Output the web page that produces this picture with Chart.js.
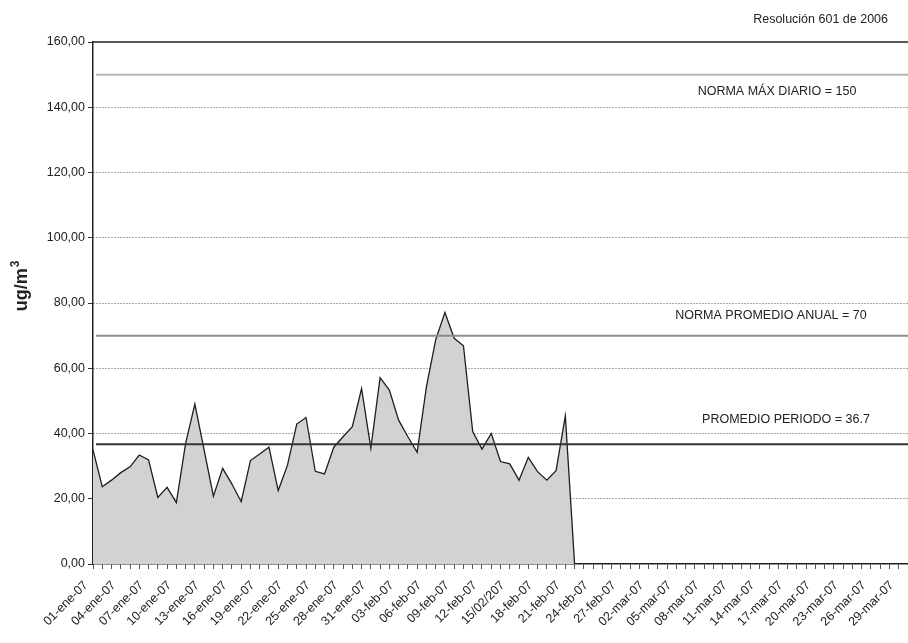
<!DOCTYPE html>
<html>
<head>
<meta charset="utf-8">
<script src="https://cdn.jsdelivr.net/npm/chart.js@4"></script>
<style>
  html, body { margin: 0; padding: 0; background: #ffffff; }
  #wrap { width: 908px; height: 643px; }
</style>
</head>
<body>
<div id="wrap"><canvas id="pm10Chart" width="908" height="643"></canvas></div>
<script>
// x tick labels, one every 3 days starting 01-ene-07
const tickLabels = [
  '01-ene-07', '04-ene-07', '07-ene-07', '10-ene-07', '13-ene-07', '16-ene-07',
  '19-ene-07', '22-ene-07', '25-ene-07', '28-ene-07', '31-ene-07', '03-feb-07',
  '06-feb-07', '09-feb-07', '12-feb-07', '15/02/207', '18-feb-07', '21-feb-07',
  '24-feb-07', '27-feb-07', '02-mar-07', '05-mar-07', '08-mar-07', '11-mar-07',
  '14-mar-07', '17-mar-07', '20-mar-07', '23-mar-07', '26-mar-07', '29-mar-07'
];

// daily concentration, 01-ene-07 .. 30-mar-07
const dailyValues = [
  35.0, 23.7, 25.7, 28.0, 29.8, 33.4, 31.9, 20.4, 23.5, 18.8,
  37.0, 49.0, 34.9, 20.8, 29.3, 24.5, 19.1, 31.7, 33.7, 35.8,
  22.5, 30.3, 42.9, 44.9, 28.4, 27.6, 35.8, 39.0, 42.1, 53.8,
  35.5, 57.1, 53.3, 44.1, 39.0, 34.2, 54.3, 68.7, 77.1, 69.2,
  66.9, 40.6, 35.2, 40.0, 31.4, 30.7, 25.7, 32.7, 28.3, 25.7,
  28.6, 45.4, 0, 0, 0, 0, 0, 0, 0, 0,
  0, 0, 0, 0, 0, 0, 0, 0, 0, 0,
  0, 0, 0, 0, 0, 0, 0, 0, 0, 0,
  0, 0, 0, 0, 0, 0, 0, 0, 0
];

const yTicks = [0, 20, 40, 60, 80, 100, 120, 140, 160];

const refValues = [150, 70, 36.7];
const refLabels = ['NORMA MÁX DIARIO = 150', 'NORMA PROMEDIO ANUAL = 70', 'PROMEDIO PERIODO = 36.7'];

const sourceNote = 'Resolución 601 de 2006';
const yTitle = 'ug/m';
const yTitleSup = '3';

// look of the reference lines (kept apart from the values)
const refStyles = [
  { color: '#b5b5b5', width: 2, labelX: 777, labelDy: 17 },
  { color: '#8c8c8c', width: 2, labelX: 771, labelDy: -20 },
  { color: '#333333', width: 2, labelX: 786, labelDy: -25 }
];

const font = "'Liberation Sans', Arial, sans-serif";

function formatComma(value) {
  return value.toFixed(2).replace('.', ',');
}

const categories = dailyValues.map((_, i) => (i % 3 === 0 && tickLabels[i / 3]) ? tickLabels[i / 3] : '');

const decorations = {
  id: 'decorations',
  afterDatasetsDraw(chart) {
    const { ctx, chartArea } = chart;
    const y = chart.scales.y;
    ctx.save();

    // solid top border at 160
    ctx.strokeStyle = '#222';
    ctx.lineWidth = 1.5;
    ctx.beginPath();
    ctx.moveTo(chartArea.left, y.getPixelForValue(yTicks[yTicks.length - 1]));
    ctx.lineTo(chartArea.right, y.getPixelForValue(yTicks[yTicks.length - 1]));
    ctx.stroke();

    // reference lines + captions
    ctx.font = `12.5px ${font}`;
    ctx.fillStyle = '#222';
    ctx.textAlign = 'center';
    ctx.textBaseline = 'middle';
    refValues.forEach((value, i) => {
      const style = refStyles[i];
      const py = y.getPixelForValue(value);
      ctx.strokeStyle = style.color;
      ctx.lineWidth = style.width;
      ctx.beginPath();
      ctx.moveTo(chartArea.left + 3, py);
      ctx.lineTo(chartArea.right, py);
      ctx.stroke();
      ctx.fillText(refLabels[i], style.labelX, py + style.labelDy);
    });

    // note in top right corner
    ctx.textAlign = 'right';
    ctx.fillText(sourceNote, chart.width - 20, 20);

    // y axis title with superscript
    ctx.translate(21, 286);
    ctx.rotate(-Math.PI / 2);
    ctx.font = `bold 18px ${font}`;
    const mainW = ctx.measureText(yTitle).width;
    ctx.font = `bold 12px ${font}`;
    const supW = ctx.measureText(yTitleSup).width;
    const startX = -(mainW + supW + 1) / 2;
    ctx.textAlign = 'left';
    ctx.textBaseline = 'alphabetic';
    ctx.font = `bold 18px ${font}`;
    ctx.fillText(yTitle, startX, 6);
    ctx.font = `bold 12px ${font}`;
    ctx.fillText(yTitleSup, startX + mainW + 1, -2);

    ctx.restore();
  }
};

function createChart() {
  const ctx = document.getElementById('pm10Chart');

  new Chart(ctx, {
    type: 'line',
    data: {
      labels: categories,
      datasets: [
        {
          label: 'PM10',
          data: dailyValues,
          borderColor: '#1e1e1e',
          borderWidth: 1.3,
          backgroundColor: '#d1d2d4',
          fill: 'origin',
          tension: 0,
          pointRadius: 0
        }
      ]
    },
    options: {
      responsive: false,
      animation: false,
      devicePixelRatio: 1,
      layout: { padding: { top: 42, right: 0, left: 0, bottom: 0 } },
      plugins: {
        legend: { display: false },
        tooltip: { enabled: false }
      },
      scales: {
        x: {
          type: 'category',
          offset: false,
          afterFit(scale) {
            scale.height = 79;
            scale.paddingRight = 0;
          },
          grid: {
            drawOnChartArea: false,
            drawTicks: true,
            tickLength: 5,
            tickColor: '#555'
          },
          border: { display: true, color: '#222', width: 1.5 },
          ticks: {
            autoSkip: false,
            maxRotation: 45,
            minRotation: 45,
            padding: 9,
            labelOffset: -7,
            color: '#222',
            font: { family: font, size: 12.5 }
          }
        },
        y: {
          min: yTicks[0],
          max: yTicks[yTicks.length - 1],
          afterFit(scale) {
            scale.width = 93;
          },
          afterBuildTicks(scale) {
            scale.ticks = yTicks.map(v => ({ value: v }));
          },
          grid: {
            color: c => (c.tick && (c.tick.value === yTicks[0] || c.tick.value === yTicks[yTicks.length - 1])) ? 'rgba(0,0,0,0)' : '#555',
            lineWidth: 1,
            drawTicks: true,
            tickLength: 5,
            tickColor: '#333'
          },
          border: { display: true, color: '#222', width: 1.5, dash: [1, 2] },
          ticks: {
            padding: 3,
            color: '#222',
            font: { family: font, size: 12.5 },
            callback: value => formatComma(value)
          }
        }
      }
    },
    plugins: [decorations]
  });
}

createChart();
</script>
</body>
</html>
